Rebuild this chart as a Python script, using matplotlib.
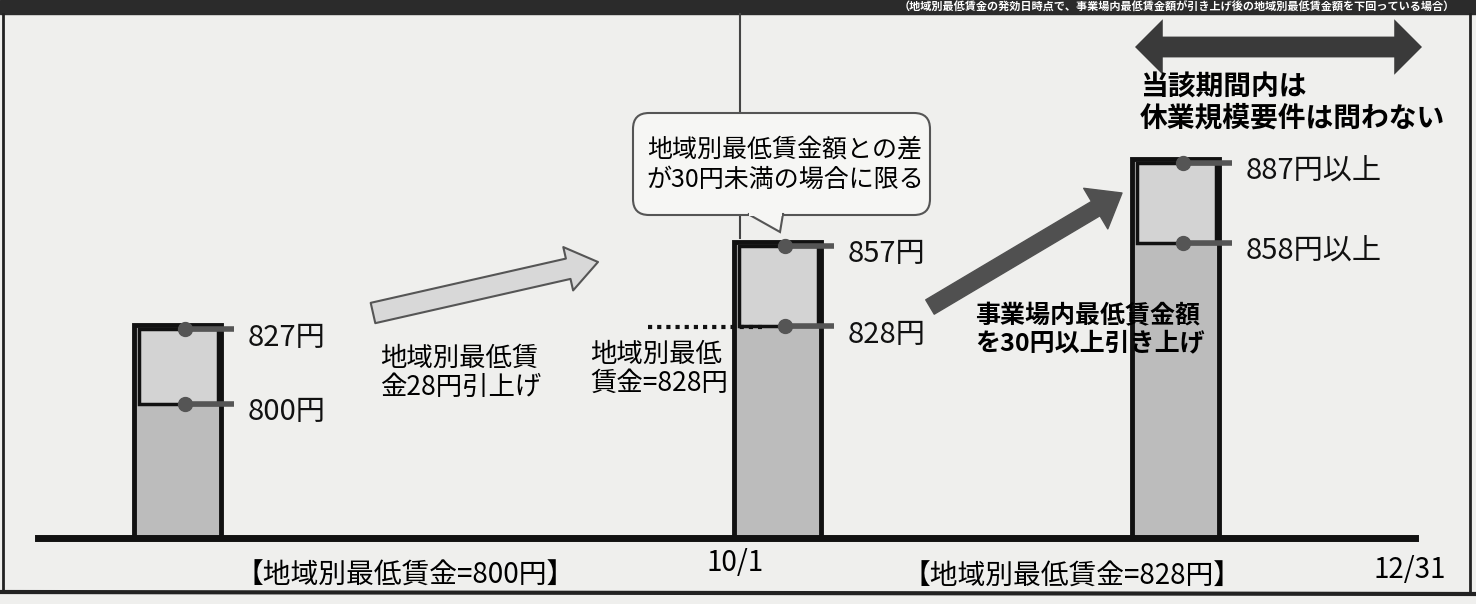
import matplotlib
matplotlib.use('Agg')
import matplotlib.pyplot as plt
from matplotlib.patches import Rectangle, FancyBboxPatch, Polygon

plt.rcParams['font.family'] = ['Noto Sans CJK JP', 'DejaVu Sans']

# ---- data ----
periods = ['改定前', '10/1（改定日）', '引上げ後']
lower_wage = [800, 828, 858]
upper_wage = [827, 857, 887]
lower_labels = ['800円', '828円', '858円以上']
upper_labels = ['827円', '857円', '887円以上']
period_labels = ['【地域別最低賃金=800円】', '【地域別最低賃金=828円】']
date_labels = ['10/1', '12/31']
title = '（地域別最低賃金の発効日時点で、事業場内最低賃金額が引き上げ後の地域別最低賃金額を下回っている場合）'

# ---- layout ----
W, H = 1476, 604
BG = '#efefed'
K = 2.77            # pixels per yen
def yv(py):
    return 800 + (404 - py) / K

bar_x = [177, 777, 1175]
bar_w = 87
base = yv(538)

fig = plt.figure(figsize=(W / 100, H / 100), dpi=100)
fig.patch.set_facecolor(BG)
ax = fig.add_axes([0, 0, 1, 1])
ax.set_xlim(0, W)
ax.set_ylim(yv(H), yv(0))
ax.axis('off')

ov = fig.add_axes([0, 0, 1, 1])
ov.set_xlim(0, W)
ov.set_ylim(H, 0)
ov.axis('off')
ov.patch.set_alpha(0)

# bars
ax.bar(bar_x, [u + 1.5 - base for u in upper_wage], bottom=base, width=bar_w,
       color='#bcbcbc', edgecolor='#111111', linewidth=3.5, zorder=2)
ax.bar([x + 1 for x in bar_x], [u - l for u, l in zip(upper_wage, lower_wage)],
       bottom=lower_wage, width=79, color='#d3d3d3', edgecolor='#111111',
       linewidth=2.5, zorder=3)

for x, lo, up, llab, ulab in zip(bar_x, lower_wage, upper_wage, lower_labels, upper_labels):
    for v, lab in ((lo, llab), (up, ulab)):
        ax.plot([x + 8, x + bar_w / 2 + 13], [v, v], color='#555555', lw=4,
                solid_capstyle='butt', zorder=4)
        ax.plot(x + 8, v, 'o', ms=10, color='#555555', zorder=5)
        ax.text(x + bar_w / 2 + 27, v - 3, lab, va='center', ha='left',
                fontsize=21, color='#111111', zorder=6)

# ---- decorations (pixel overlay) ----
# top dark bar with title
ov.add_patch(Rectangle((0, 0), W, 14, color='#2b2b2b', zorder=1))
ov.text(1455, 7, title, ha='right', va='center', fontsize=8, color='white',
        fontweight='bold', zorder=2)
# frame
ov.plot([3, 3], [14, 592], color='#222222', lw=2)
ov.plot([1470, 1470], [14, 592], color='#222222', lw=2)
ov.plot([0, W], [592, 594], color='#222222', lw=3)
# baseline
ov.plot([38, 1415], [538, 538], color='#111111', lw=5, zorder=1)
# vertical 10/1 line
ov.plot([740, 740], [14, 238], color='#444444', lw=1.5, zorder=1)

# speech bubble
bub = FancyBboxPatch((633, 113), 297, 102, boxstyle='round,pad=0,rounding_size=16',
                     fc='#f6f6f4', ec='#555555', lw=1.5, zorder=3)
ov.add_patch(bub)
ov.add_patch(Polygon([(748, 214), (783, 214), (780, 232)], closed=True,
                     fc='#f6f6f4', ec='#555555', lw=1.5, zorder=3))
ov.add_patch(Rectangle((749, 211), 33, 5, fc='#f6f6f4', ec='none', zorder=4))
ov.text(785, 165, '地域別最低賃金額との差\nが30円未満の場合に限る', ha='center', va='center',
        fontsize=18, linespacing=1.15, zorder=5)

# grey arrow
ov.annotate('', xy=(598, 262), xytext=(373, 313),
            arrowprops=dict(arrowstyle='simple,head_length=1.1,head_width=1.6,tail_width=0.75',
                            fc='#d8d8d8', ec='#555555', lw=1.5, mutation_scale=20,
                            shrinkA=0, shrinkB=0), zorder=3)
# dark arrow
ov.annotate('', xy=(1122, 193), xytext=(930, 307),
            arrowprops=dict(arrowstyle='simple,head_length=1.1,head_width=1.7,tail_width=0.6',
                            fc='#505050', ec='#505050', lw=1, mutation_scale=20,
                            shrinkA=0, shrinkB=0), zorder=3)

# double arrow
for end in (1135, 1422):
    ov.annotate('', xy=(end, 47), xytext=(1278, 47),
                arrowprops=dict(arrowstyle='simple,head_length=1.0,head_width=2.0,tail_width=0.75',
                                fc='#3a3a3a', ec='none', mutation_scale=20,
                                shrinkA=0, shrinkB=0), zorder=3)

# texts
ov.text(380, 373, '地域別最低賃\n金28円引上げ', ha='left', va='center', fontsize=19,
        linespacing=1.1, zorder=5)
ov.plot([648, 762], [327, 327], color='#111111', lw=3, ls=(0, (1, 1.2)), zorder=5)
ov.text(590, 369, '地域別最低\n賃金=828円', ha='left', va='center', fontsize=19,
        linespacing=1.1, zorder=5)
ov.text(975, 330, '事業場内最低賃金額\nを30円以上引き上げ', ha='left', va='center',
        fontsize=18, fontweight='bold', linespacing=1.15, zorder=7)
ov.text(1140, 103, '当該期間内は\n休業規模要件は問わない', ha='left', va='center',
        fontsize=20, fontweight='bold', linespacing=1.1, zorder=7)

# bottom labels
ov.text(405, 576, period_labels[0], ha='center', va='center', fontsize=20, zorder=5)
ov.text(1072, 577, period_labels[1], ha='center', va='center', fontsize=20, zorder=5)
ov.text(735, 563, date_labels[0], ha='center', va='center', fontsize=20, zorder=5)
ov.text(1410, 570, date_labels[1], ha='center', va='center', fontsize=20, zorder=5)

fig.savefig('out.png', dpi=100, facecolor=BG)
